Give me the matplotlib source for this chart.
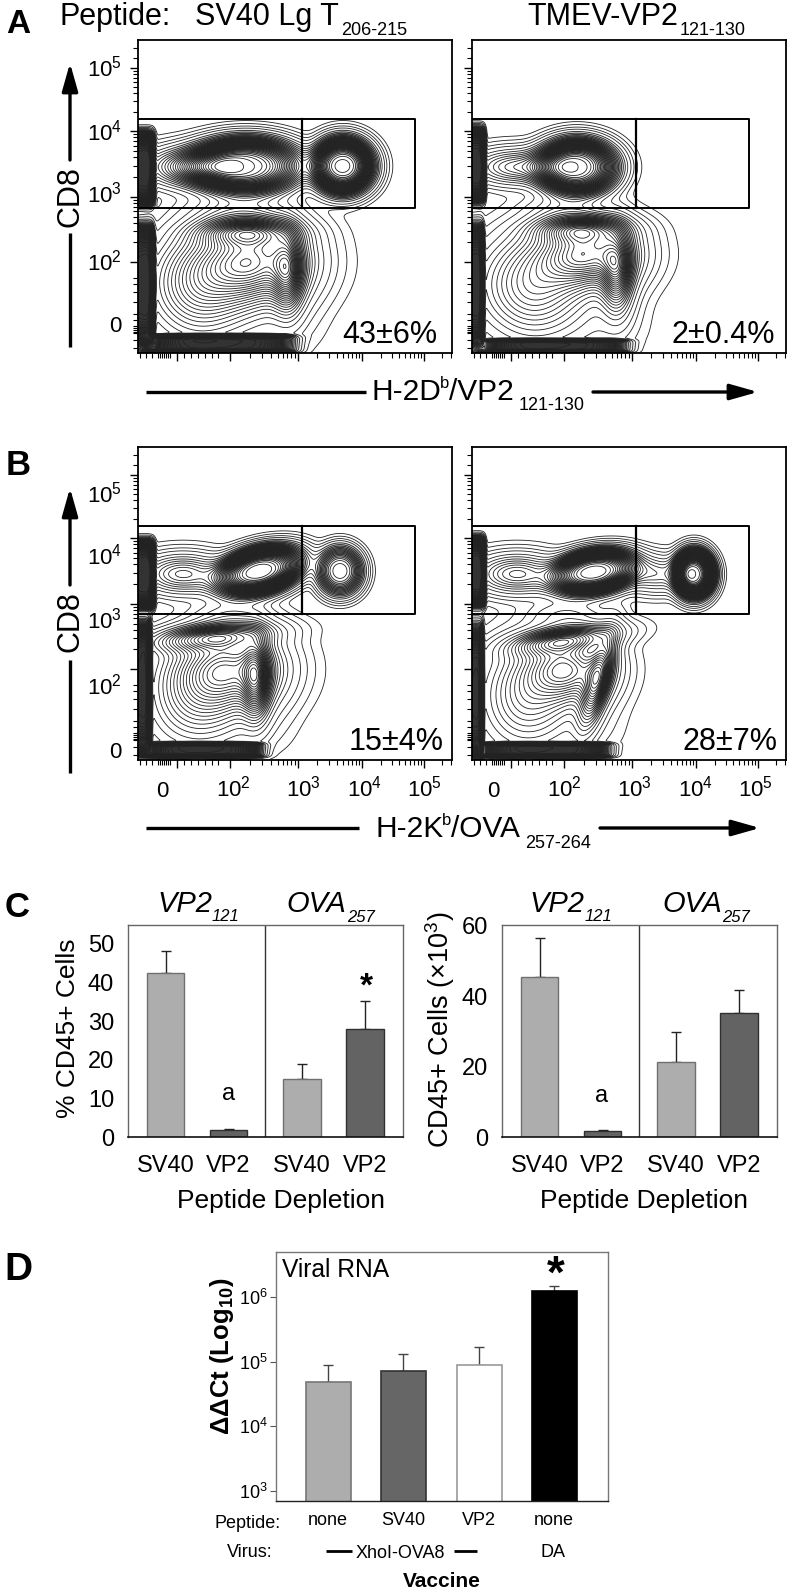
import numpy as np
import matplotlib
matplotlib.use("Agg")
import matplotlib.pyplot as plt
from matplotlib.colors import LinearSegmentedColormap

plt.rcParams['font.family'] = ['Liberation Sans', 'DejaVu Sans']
plt.rcParams['mathtext.fontset'] = 'custom'
plt.rcParams['mathtext.rm'] = 'Liberation Sans'
plt.rcParams['mathtext.it'] = 'Liberation Sans:italic'
plt.rcParams['mathtext.bf'] = 'Liberation Sans:bold'
plt.rcParams['mathtext.default'] = 'regular'

W, H = 792, 1592

# ---- cell populations:
# (x channel, y channel, x spread, y spread, tilt deg, relative density, edge sharpness)
POP_A1 = [(50,127,28,12,0,.35,2),(108,126,42,21,0,.93,3),(205,126,23,21,0,.96,3),
          (115,221,34,26,0,.66,2),(60,245,32,32,0,.34,2),(108,192,30,9,0,.42,2),(150,232,10,26,0,.40,2),
          (110,250,58,50,0,.03,4),(100,170,32,10,0,.10,2)]
BAR_A1 = [(3,129,11,30,0,.97,6),(3,245,11,50,0,.95,6),(82,304,60,7.5,0,.9,6)]
POP_A2 = [(45,127,28,11,0,.30,2),(105,127,30,21,0,.92,3),(115,214,30,20,0,.62,2),(108,189,28,9,0,.42,2),
          (145,232,10,26,0,.42,2),(60,245,35,32,0,.34,2),(105,250,55,50,0,.03,4),(90,168,24,9,0,.08,2)]
BAR_A2 = [(2,125,9,30,0,.97,6),(2,245,8,50,0,.95,6),(82,306,58,5.5,0,.9,6)]
POP_B1 = [(45,127,26,12,0,.32,2),(122,124,33,17,-15,.97,3),(202,124,17,18,0,.55,3),
          (92,222,32,24,0,.52,2),(75,190,36,8,-5,.40,2),(118,232,9,26,0,.42,2),
          (60,250,30,30,0,.24,2),(80,245,58,48,0,.03,4),(95,168,24,9,0,.08,2)]
BAR_B1 = [(3,128,11,28,0,.97,6),(2,240,9,55,0,.95,6),(64,303,48,6,0,.9,6)]
POP_B2 = [(45,127,26,12,0,.32,2),(122,125,32,16,-10,.9,3),(222,127,15,18,0,.95,3),
          (185,127,20,11,0,.2,2),(95,222,26,20,0,.50,2),(92,193,32,8,-8,.42,2),
          (125,235,30,8,105,.42,2),(55,250,28,30,0,.24,2),(85,245,52,48,0,.03,4),(95,168,24,9,0,.08,2)]
BAR_B2 = [(2,125,9,28,0,.97,6),(2,245,7.5,55,0,.95,6),(72,303,52,6,0,.9,6)]

PCT_A = ["43±6%", "2±0.4%"]
PCT_B = ["15±4%", "28±7%"]

# flow axis tick decades, in channels
X_DECADES = [2, 3, 4, 5]
X_DECADE_CH = [92, 160, 224, 286]
Y_DECADE_CH = [222, 157, 91, 28]
X_ZERO_CH = 39
X_NEAR_ZERO = [2, 8, 14, 20, 22, 24, 26, 28, 30, 32, 46, 53, 60, 67, 74, 80]
Y_NEAR_ZERO = [274, 280, 286, 288, 290, 292, 293, 300, 308, 262, 252, 244, 238]

# ---- panel C
C_GROUPS = ["SV40", "VP2", "SV40", "VP2"]
PCT_VALUES = [42.5, 1.8, 15.0, 28.0]
PCT_ERR = [5.7, 0.4, 4.0, 7.1]
CNT_VALUES = [45.3, 1.8, 21.2, 35.3]
CNT_ERR = [11.3, 0.2, 8.6, 6.5]
C_COLORS = ['#adadad', '#636363', '#adadad', '#636363']

# ---- panel D
D_PEPTIDE = ["none", "SV40", "VP2", "none"]
D_VALUES = [4.8e4, 7.1e4, 9.0e4, 1.22e6]
D_ERR_TOP = [8.9e4, 1.3e5, 1.7e5, 1.48e6]
D_COLORS = ['#adadad', '#666666', '#ffffff', '#000000']
D_EDGES = ['#777777', '#333333', '#999999', '#000000']

fig = plt.figure(figsize=(W / 100, H / 100), dpi=100, facecolor='white')
SHADE = LinearSegmentedColormap.from_list('shade', ['#ffffff', '#333333'])


def ax_px(l, t, r, b, **kw):
    return fig.add_axes([l / W, 1 - b / H, (r - l) / W, (b - t) / H], **kw)


def field(pops, X, Y):
    Z = np.zeros_like(X, dtype=float)
    for cx, cy, sx, sy, ang, w, p in pops:
        a = np.deg2rad(ang)
        dx, dy = X - cx, Y - cy
        u = (dx * np.cos(a) + dy * np.sin(a)) / sx
        v = (-dx * np.sin(a) + dy * np.cos(a)) / sy
        if p >= 4:   # box-like populations
            Z += w * np.exp(-0.5 * (np.abs(u) ** p + np.abs(v) ** p))
        else:
            Z += w * np.exp(-0.5 * (u ** 2 + v ** 2) ** (p / 2))
    return Z


def flow_panel(l, t, pops, bars, gate_top, gate_bot, lmax):
    ax = ax_px(l, t, l + 314, t + 313)
    x = np.arange(0, 314.5, 1.0)
    y = np.arange(0, 313.5, 1.0)
    X, Y = np.meshgrid(x, y)
    Zb = field(bars, X, Y)
    Z = field(pops, X, Y) + Zb
    gy, gx = np.gradient(Z)
    G = np.hypot(gx, gy)
    shade = np.maximum(np.clip((G - 0.014) / 0.022, 0, 1), np.clip(Zb / 0.45, 0, 1))
    ax.imshow(shade, extent=(-0.5, 314.5, 313.5, -0.5), cmap=SHADE, vmin=0, vmax=1,
              aspect='auto', interpolation='bilinear', zorder=0)
    outer = np.array([0.006, 0.015, 0.03])
    inner = np.linspace(0.05, lmax, 30)
    ax.contour(X, Y, Z, levels=np.r_[outer, inner], colors='#222222', linewidths=0.6, zorder=1)
    ax.set_xlim(0, 314)
    ax.set_ylim(313, 0)
    # gate
    ax.plot([0, 277, 277, 0], [gate_top, gate_top, gate_bot, gate_bot], color='k', lw=1.4, zorder=3)
    ax.plot([164, 164], [gate_top, gate_bot], color='k', lw=1.6, zorder=3)
    for s in ax.spines.values():
        s.set_linewidth(1.3)
    # ticks
    mult = [2, 3, 4, 5, 6, 7, 8, 9]
    lx = [d + np.log10(m) for d in [2, 3, 4, 5] for m in mult]
    xm = np.interp(lx, X_DECADES, X_DECADE_CH)
    xm = xm[np.array(lx) < 5] + 0
    ax.set_xticks([X_ZERO_CH] + X_DECADE_CH)
    ax.set_xticks(list(xm) + [286 + 18, 286 + 27] + X_NEAR_ZERO, minor=True)
    ym = np.interp(lx, X_DECADES, Y_DECADE_CH[::1])
    ym = ym[np.array(lx) < 5]
    ax.set_yticks(Y_DECADE_CH)
    ax.set_yticks(list(ym) + [18, 8] + Y_NEAR_ZERO, minor=True)
    ax.tick_params(which='major', length=6, width=1.0, labelleft=False, labelbottom=False)
    ax.tick_params(which='minor', length=3.5, width=0.8)
    return ax


flow_panel(138, 40, POP_A1, BAR_A1, 79, 168, 0.98)
flow_panel(472, 40, POP_A2, BAR_A2, 79, 168, 0.98)
flow_panel(138, 447, POP_B1, BAR_B1, 79, 167, 0.98)
flow_panel(472, 447, POP_B2, BAR_B2, 79, 167, 0.98)


# ---- bar charts C
def c_chart(l, values, errs, ymax, yticks, ypad):
    ax = ax_px(l, 925, l + 275, 1137)
    xs = [37.5, 100.5, 174, 237]
    edges = ['#707070', '#303030', '#707070', '#303030']
    ax.bar(xs, values, width=37.5, color=C_COLORS, edgecolor=edges, linewidth=1.0, zorder=2)
    ax.errorbar(xs, values, yerr=[np.zeros(4), errs], fmt='none', ecolor='#222222',
                elinewidth=1.0, capsize=3.5, capthick=1.0, zorder=1)
    ax.axvline(137, color='#333333', lw=1.0)
    ax.set_xlim(0, 275)
    ax.set_ylim(0, ymax)
    ax.set_xticks(xs)
    ax.set_xticklabels(C_GROUPS, fontsize=17)
    ax.set_yticks(yticks)
    ax.tick_params(axis='y', length=0, pad=ypad, labelsize=17)
    ax.tick_params(axis='x', length=0, pad=13)
    for k in ('left', 'right', 'top'):
        ax.spines[k].set_color('#666666')
        ax.spines[k].set_linewidth(1.0)
    ax.spines['bottom'].set_color('#111111')
    ax.spines['bottom'].set_linewidth(1.2)
    return ax


c_chart(128, PCT_VALUES, PCT_ERR, 54.9, [0, 10, 20, 30, 40, 50], 10)
c_chart(502, CNT_VALUES, CNT_ERR, 60.2, [0, 20, 40, 60], 10)

# ---- bar chart D
axd = ax_px(276, 1252, 608, 1501)
dx = [52, 127, 203, 278]
axd.set_yscale('log')
axd.bar(dx, np.array(D_VALUES) - 1, bottom=1, width=45, color=D_COLORS, edgecolor=D_EDGES, linewidth=1.2, zorder=2)
axd.errorbar(dx, D_VALUES, yerr=[np.zeros(4), np.array(D_ERR_TOP) - np.array(D_VALUES)], fmt='none',
             ecolor='#444444', elinewidth=1.0, capsize=3.5, capthick=1.0, zorder=1)
axd.set_xlim(0, 332)
axd.set_ylim(10 ** 2.845, 10 ** 6.695)
axd.set_xticks(dx)
axd.set_xticklabels(D_PEPTIDE, fontsize=13)
axd.set_yticks([1e3, 1e4, 1e5, 1e6])
axd.set_yticklabels(['10$^{3}$', '10$^{4}$', '10$^{5}$', '10$^{6}$'], fontsize=13)
axd.minorticks_off()
axd.tick_params(axis='y', length=4, width=0.8, color='#555555', pad=2)
axd.tick_params(axis='x', length=0, pad=8)
for s in axd.spines.values():
    s.set_color('#777777')
    s.set_linewidth(1.0)
axd.spines['bottom'].set_color('#222222')

# ---- pixel overlay for annotation text
ov = fig.add_axes([0, 0, 1, 1], facecolor='none', zorder=20)
ov.set_xlim(0, W)
ov.set_ylim(H, 0)
ov.axis('off')


def T(x, y, s, size, ha='left', va='baseline', **kw):
    ov.text(x, y, s, fontsize=size, ha=ha, va=va, color='k', **kw)


def arrow(x0, y0, x1, y1):
    ov.annotate('', xy=(x1, y1), xytext=(x0, y0),
                arrowprops=dict(arrowstyle='-|>,head_width=0.24,head_length=0.85', lw=2.4, color='k',
                                shrinkA=0, shrinkB=0, mutation_scale=20))


def hline(x0, x1, y, lw=2.4):
    ov.plot([x0, x1], [y, y], color='k', lw=lw, solid_capstyle='butt')


# panel letters
T(18, 33, 'A', 24, ha='center', fontweight='bold')
T(18, 475, 'B', 25, ha='center', fontweight='bold')
T(17, 917, 'C', 25, ha='center', fontweight='bold')
T(18, 1280, 'D', 28, ha='center', fontweight='bold')

# panel A heads
T(60, 25, 'Peptide:', 22)
T(195, 25, 'SV40 Lg T', 22)
T(341, 35, '206-215', 13)
T(527, 25, 'TMEV-VP2', 22)
T(680, 35, '121-130', 13)

# y labels for flow plots
for yb, lab in zip([77, 140, 202, 270], ['10$^{5}$', '10$^{4}$', '10$^{3}$', '10$^{2}$']):
    T(122, yb, lab, 16, ha='right')
T(122, 332, '0', 16, ha='right')
for yb, lab in zip([502, 565, 628, 695], ['10$^{5}$', '10$^{4}$', '10$^{3}$', '10$^{2}$']):
    T(122, yb, lab, 16, ha='right')
T(122, 758, '0', 16, ha='right')

# x labels for B
for off in (0, 331):
    for xc, lab in zip([162, 233, 303, 365, 424], ['0', '10$^{2}$', '10$^{3}$', '10$^{4}$', '10$^{5}$']):
        T(xc + off, 797, lab, 16, ha='center')

# CD8 axes
T(70, 197, 'CD8', 22, ha='center', va='center', rotation=90, rotation_mode='anchor')
arrow(70, 160, 70, 63)
ov.plot([70, 70], [233, 347], color='k', lw=2.4, solid_capstyle='butt')
T(70, 622, 'CD8', 22, ha='center', va='center', rotation=90, rotation_mode='anchor')
arrow(70, 585, 70, 488)
ov.plot([70, 70], [660, 773], color='k', lw=2.4, solid_capstyle='butt')

# x axis captions
hline(146, 366, 392)
T(371, 400, 'H-2D', 21.5)
T(440, 388, 'b', 12)
T(449, 400, '/VP2', 21.5)
T(519, 410, '121-130', 13)
arrow(593, 392, 758, 392)

hline(146, 359, 828)
T(375, 837, 'H-2K', 21.5)
T(442, 825, 'b', 12)
T(451, 837, '/OVA', 21.5)
T(525, 848, '257-264', 13)
arrow(600, 828, 760, 828)

# percentages
T(437, 343, PCT_A[0], 22, ha='right')
T(775, 343, PCT_A[1], 22, ha='right')
T(444, 750, PCT_B[0], 22, ha='right')
T(778, 750, PCT_B[1], 22, ha='right')

# panel C heads
for x1, x2, x3, x4 in [(157, 212, 286, 347), (529, 585, 662, 722)]:
    T(x1, 912, 'VP2', 21, fontstyle='italic')
    T(x2, 921, '121', 12, fontstyle='italic')
    T(x3, 912, 'OVA', 21, fontstyle='italic')
    T(x4, 922, '257', 12, fontstyle='italic')
T(68, 1028, '% CD45+ Cells', 19, ha='center', va='center', rotation=90, rotation_mode='anchor')
T(440, 1030, 'CD45+ Cells (×10$^{3}$)', 19.5, ha='center', va='center', rotation=90, rotation_mode='anchor')
T(281, 1208, 'Peptide Depletion', 19, ha='center')
T(644, 1208, 'Peptide Depletion', 19, ha='center')
T(229, 1100, 'a', 17, ha='center')
T(602, 1102, 'a', 17, ha='center')
T(366, 996, '*', 24, ha='center', fontweight='bold')

# panel D labels
T(282, 1277, 'Viral RNA', 17.7)
T(556, 1288, '*', 33, ha='center', fontweight='bold')
T(222, 1356, 'ΔΔCt (Log$_{10}$)', 18.5, ha='center', va='center', rotation=90, rotation_mode='anchor', fontweight='bold')
T(214, 1528, 'Peptide:', 13)
T(227, 1557, 'Virus:', 13)
T(356, 1558, 'XhoI-OVA8', 13)
hline(326, 352, 1551, 2.0)
hline(454, 477, 1551, 2.0)
T(553, 1557, 'DA', 13, ha='center')
T(442, 1587, 'Vaccine', 15, ha='center', fontweight='bold')

fig.savefig('out.png', dpi=100, facecolor='white')
